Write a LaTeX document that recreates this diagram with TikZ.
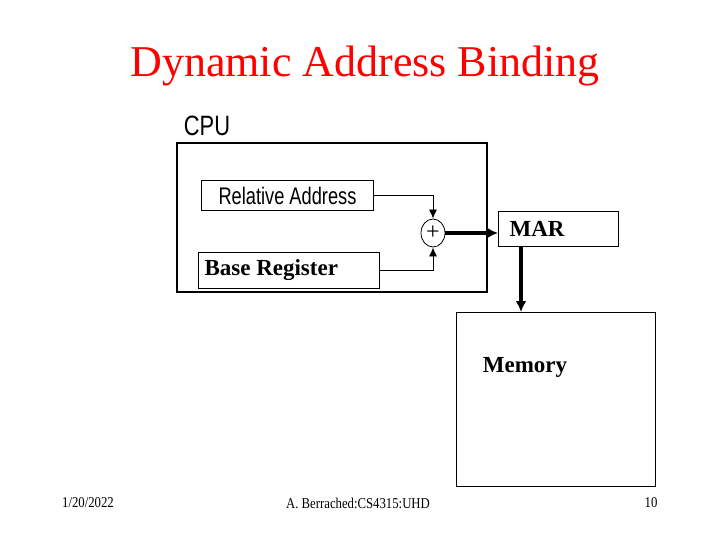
\documentclass[tikz,border=0pt]{standalone}
\usepackage{fontspec}
\usetikzlibrary{arrows.meta,shapes.geometric}
\setmainfont{Liberation Serif}
\newfontfamily\narrowsans{Liberation Sans}
\begin{document}
\begin{tikzpicture}[x=1pt,y=-1pt,
  box/.style={draw,line width=1pt,inner sep=0pt},
  thinline/.style={line width=0.8pt},
  thick arrow/.style={line width=3.5pt,-{Latex[length=11pt,width=11pt]}},
  small arrow/.style={line width=0.8pt,-{Latex[length=9pt,width=8pt]}}]
\useasboundingbox (0,0) rectangle (720,540);
\node (title) at (365,66) {\color{red}\fontsize{44}{46}\selectfont Dynamic Address Binding};
\node (cpulbl) at (207,126) {\narrowsans\fontsize{28}{30}\selectfont\scalebox{0.78}[1]{CPU}};
\draw[line width=1.2pt] (177,143) rectangle (487,292);
\node[box,minimum width=172pt,minimum height=30pt,anchor=north west] (rel) at (201,180) {\narrowsans\fontsize{24}{26}\selectfont\scalebox{0.76}[1]{Relative Address}};
\node[box,minimum width=181pt,minimum height=36pt,anchor=north west] (base) at (198,252) {};
\node[anchor=west] (basetxt) at (201,270) {\bfseries\fontsize{23}{25}\selectfont Base Register};
\node[draw,thinline,ellipse,minimum width=24pt,minimum height=28pt,inner sep=0pt] (plus) at (433,233) {\fontsize{24}{24}\selectfont +};
\node[box,minimum width=120pt,minimum height=35pt,anchor=north west] (mar) at (498,211) {};
\node[anchor=west] (martxt) at (506,229) {\bfseries\fontsize{23}{25}\selectfont MAR};
\node[box,minimum width=199pt,minimum height=174pt,anchor=north west] (mem) at (456,312) {};
\node (memtxt) at (525,367) {\bfseries\fontsize{23}{25}\selectfont Memory};
\draw[small arrow] (rel.east) -- (rel.east -| plus.north) -- (plus.north);
\draw[small arrow] (base.east) -- (base.east -| plus.south) -- (plus.south);
\draw[thick arrow] (plus.east) -- (plus.east -| mar.west);
\draw[thick arrow] (mar.south -| 521,0) -- (mem.north -| 521,0);
\node (date) at (88,503) {\fontsize{15}{16}\selectfont\scalebox{0.85}[1]{1/20/2022}};
\node (auth) at (358,503) {\fontsize{15}{16}\selectfont\scalebox{0.85}[1]{A. Berrached:CS4315:UHD}};
\node (page) at (651,503) {\fontsize{15}{16}\selectfont\scalebox{0.85}[1]{10}};
\end{tikzpicture}
\end{document}
